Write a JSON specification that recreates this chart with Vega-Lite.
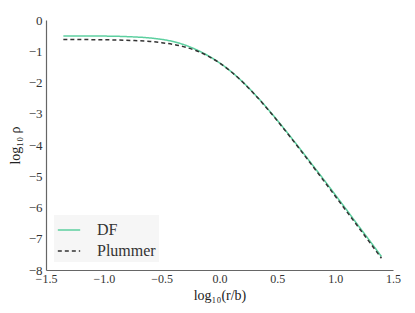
{
  "$schema": "https://vega.github.io/schema/vega-lite/v6.json",
  "width": 347,
  "height": 250,
  "autosize": {"type": "none"},
  "padding": {"left": 46, "top": 20, "right": 22, "bottom": 43},
  "background": "white",
  "config": {
    "view": {"stroke": null},
    "font": "Liberation Serif"
  },
  "data": {
    "values": [
      {"x": -1.35, "y": -0.51, "s": "DF"},
      {"x": -1.0, "y": -0.515, "s": "DF"},
      {"x": -0.75, "y": -0.54, "s": "DF"},
      {"x": -0.6, "y": -0.575, "s": "DF"},
      {"x": -0.5, "y": -0.62, "s": "DF"},
      {"x": -0.4, "y": -0.69, "s": "DF"},
      {"x": -0.3, "y": -0.80, "s": "DF"},
      {"x": -0.2, "y": -0.95, "s": "DF"},
      {"x": -0.1, "y": -1.14, "s": "DF"},
      {"x": 0.0, "y": -1.37, "s": "DF"},
      {"x": 0.1, "y": -1.65, "s": "DF"},
      {"x": 0.2, "y": -1.98, "s": "DF"},
      {"x": 0.3, "y": -2.36, "s": "DF"},
      {"x": 0.4, "y": -2.77, "s": "DF"},
      {"x": 0.5, "y": -3.21, "s": "DF"},
      {"x": 0.6, "y": -3.67, "s": "DF"},
      {"x": 0.7, "y": -4.14, "s": "DF"},
      {"x": 0.8, "y": -4.62, "s": "DF"},
      {"x": 0.9, "y": -5.10, "s": "DF"},
      {"x": 1.0, "y": -5.59, "s": "DF"},
      {"x": 1.1, "y": -6.08, "s": "DF"},
      {"x": 1.2, "y": -6.58, "s": "DF"},
      {"x": 1.3, "y": -7.07, "s": "DF"},
      {"x": 1.4, "y": -7.57, "s": "DF"},
      {"x": -1.35, "y": -0.624, "s": "Plummer"},
      {"x": -1.0, "y": -0.633, "s": "Plummer"},
      {"x": -0.75, "y": -0.656, "s": "Plummer"},
      {"x": -0.6, "y": -0.686, "s": "Plummer"},
      {"x": -0.5, "y": -0.725, "s": "Plummer"},
      {"x": -0.4, "y": -0.782, "s": "Plummer"},
      {"x": -0.3, "y": -0.865, "s": "Plummer"},
      {"x": -0.2, "y": -0.986, "s": "Plummer"},
      {"x": -0.1, "y": -1.153, "s": "Plummer"},
      {"x": 0.0, "y": -1.375, "s": "Plummer"},
      {"x": 0.1, "y": -1.653, "s": "Plummer"},
      {"x": 0.2, "y": -1.986, "s": "Plummer"},
      {"x": 0.3, "y": -2.365, "s": "Plummer"},
      {"x": 0.4, "y": -2.782, "s": "Plummer"},
      {"x": 0.5, "y": -3.225, "s": "Plummer"},
      {"x": 0.6, "y": -3.689, "s": "Plummer"},
      {"x": 0.7, "y": -4.164, "s": "Plummer"},
      {"x": 0.8, "y": -4.649, "s": "Plummer"},
      {"x": 0.9, "y": -5.139, "s": "Plummer"},
      {"x": 1.0, "y": -5.633, "s": "Plummer"},
      {"x": 1.1, "y": -6.129, "s": "Plummer"},
      {"x": 1.2, "y": -6.626, "s": "Plummer"},
      {"x": 1.3, "y": -7.125, "s": "Plummer"},
      {"x": 1.4, "y": -7.624, "s": "Plummer"}
    ]
  },
  "mark": {"type": "line", "strokeWidth": 1.5, "interpolate": "monotone"},
  "encoding": {
    "x": {
      "field": "x", "type": "quantitative",
      "scale": {"domain": [-1.5, 1.5], "nice": false, "zero": false},
      "axis": {
        "values": [-1.5, -1.0, -0.5, 0.0, 0.5, 1.0, 1.5],
        "format": ".1f",
        "title": "log₁₀(r/b)",
        "ticks": false, "grid": false,
        "labelFlush": false, "labelOverlap": false, "labelBound": false,
        "domainColor": "#666666", "domainWidth": 1.2,
        "labelFont": "Liberation Serif", "labelFontSize": 12, "labelColor": "#333333",
        "labelPadding": 3,
        "titleFont": "Liberation Serif", "titleFontSize": 14, "titleFontWeight": "normal", "titleColor": "#222222",
        "titlePadding": 4
      }
    },
    "y": {
      "field": "y", "type": "quantitative",
      "scale": {"domain": [-8, 0], "nice": false, "zero": false},
      "axis": {
        "values": [0, -1, -2, -3, -4, -5, -6, -7, -8],
        "format": "d",
        "title": "log₁₀ ρ",
        "ticks": false, "grid": false,
        "labelFlush": false, "labelOverlap": false, "labelBound": false,
        "domainColor": "#666666", "domainWidth": 1.2,
        "labelFont": "Liberation Serif", "labelFontSize": 13, "labelColor": "#333333",
        "labelPadding": 4,
        "titleFont": "Liberation Serif", "titleFontSize": 14, "titleFontWeight": "normal", "titleColor": "#222222",
        "titlePadding": 6
      }
    },
    "color": {
      "field": "s", "type": "nominal",
      "scale": {"domain": ["DF", "Plummer"], "range": ["#5ccf9f", "#333333"]},
      "legend": {
        "title": null,
        "orient": "bottom-left",
        "offset": 8,
        "padding": 3,
        "fillColor": "#f6f6f6",
        "symbolType": "stroke",
        "symbolSize": 500,
        "symbolStrokeWidth": 1.5,
        "labelFont": "Liberation Serif",
        "labelFontSize": 16,
        "labelColor": "#333333",
        "labelOffset": 16,
        "rowPadding": 1
      }
    },
    "strokeDash": {
      "field": "s", "type": "nominal",
      "scale": {"domain": ["DF", "Plummer"], "range": [[1, 0], [4, 3]]}
    }
  }
}
